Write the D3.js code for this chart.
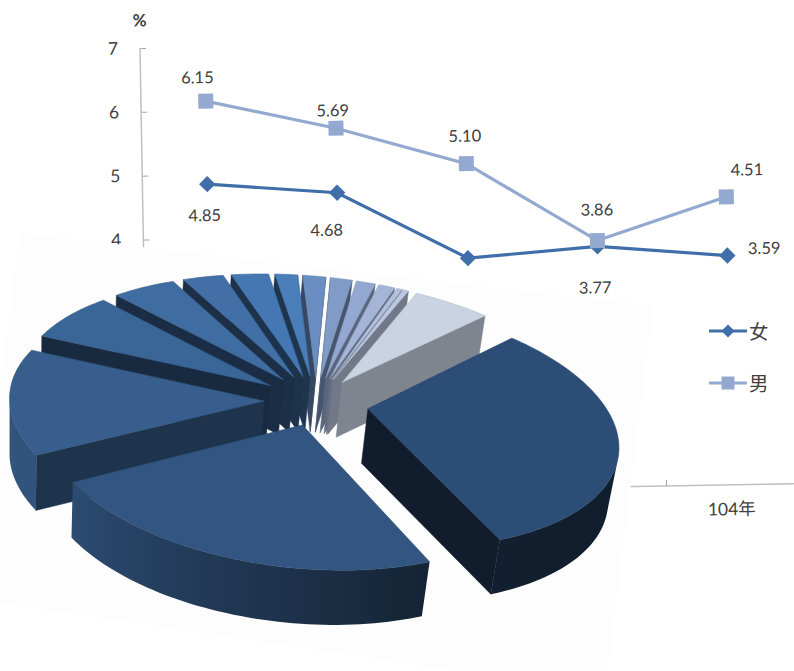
<!DOCTYPE html>
<html><head><meta charset="utf-8">
<script src="https://cdn.jsdelivr.net/npm/d3@7"></script>
<style>
html,body{margin:0;padding:0;background:#fff}
svg{display:block}
text{font-family:"Lato","Noto Sans CJK TC",sans-serif;fill:#404040}
</style></head><body>
<svg id="c" width="794" height="671"></svg>
<script>
// ---- line chart data
const years = ["100年","101年","102年","103年","104年"];
const female = [4.85,4.68,3.62,3.77,3.59];
const male = [6.15,5.69,5.10,3.86,4.51];
const yTicks = [0,1,2,3,4,5,6,7];
// ---- pie data (share of the circle, %)
const pieShares = [31.3,22.9,13.9,7.2,4.9,3.1,2.8,1.7,1.7,1.6,1.4,1.2,0.4,0.4,5.6];
// ---- styles
const pieTop = ["#2c4d75","#325681","#375e8c","#3a6597","#3f6ca1","#426fa6","#4578b3","#4a7eb9","#6a8ec2","#7f9bc6","#92a8d0","#a4b5d8","#b2bfdd","#bcc8e1","#c9d3e2"];
const pieWall = [.38,.4,.55,.42,.42,.42,.42,.42,.5,.55,.6,.6,.6,.6,.63];
const femaleLabelOffset = [[-3,31],[-11,37],[0,40],[-3,41],[37,-7]];
const maleLabelOffset = [[-8,-24],[-3,-18],[-1,-28],[0,-31],[21,-27]];
const FEMALE="#3f6ea8", MALE="#93a9d0";

const svg=d3.select("#c");
const defs=svg.append("defs");
const rad=d=>d*Math.PI/180;

// ---- rotated line chart
const plot=svg.append("g").attr("transform","translate(140,48) rotate(-1)");
const pw=648.5, ph=447;
const x=d3.scaleBand().domain(years).range([0,pw]);
const y=d3.scaleLinear().domain([0,7]).range([ph,0]);

const ax=plot.append("g").call(d3.axisLeft(y).tickValues(yTicks).tickFormat(d3.format("d")).tickSize(-6).tickPadding(22));
ax.selectAll("path").remove();
ax.append("line").attr("y1",0).attr("y2",ph).attr("stroke","#bfbfbf").attr("stroke-width",1.5);
ax.selectAll(".tick line").attr("stroke","#a6a6a6").attr("stroke-width",1);
ax.selectAll(".tick text").style("font-size","17.5px").style("fill","#404040");

const bx=plot.append("g").attr("transform",`translate(0,${ph})`)
  .call(d3.axisBottom(x).tickSize(0).tickPadding(18));
bx.selectAll("path").remove();
bx.selectAll(".tick text").style("font-size","17.5px").style("fill","#404040");
plot.append("line").attr("x1",0).attr("x2",pw+20).attr("y1",ph).attr("y2",ph).attr("stroke","#bfbfbf").attr("stroke-width",1.5);
plot.selectAll("line.bt").data(d3.range(years.length+1)).join("line").attr("class","bt")
  .attr("x1",d=>x.step()*d).attr("x2",d=>x.step()*d).attr("y1",ph).attr("y2",ph-6)
  .attr("stroke","#8c8c8c").attr("stroke-width",.8);

const ln=d3.line().x((d,i)=>x(years[i])+x.bandwidth()/2).y(d=>y(d));
function series(vals,col,offs,marker){
  plot.append("path").attr("d",ln(vals)).attr("fill","none").attr("stroke",col).attr("stroke-width",3.2);
  plot.selectAll(null).data(vals).join("path")
    .attr("d",d3.symbol().type(marker.t).size(marker.s))
    .attr("transform",(d,i)=>`translate(${x(years[i])+x.bandwidth()/2},${y(d)})`).attr("fill",col);
  plot.selectAll(null).data(vals).join("text")
    .attr("x",(d,i)=>x(years[i])+x.bandwidth()/2+offs[i][0])
    .attr("y",(d,i)=>y(d)+offs[i][1]).attr("text-anchor","middle").attr("dominant-baseline","central")
    .style("font-size","16.5px").text(d=>d.toFixed(2));
}
series(female,FEMALE,femaleLabelOffset,{t:d3.symbolDiamond2,s:170});
series(male,MALE,maleLabelOffset,{t:d3.symbolSquare,s:225});
plot.append("text").attr("x",0).attr("y",-28).attr("text-anchor","middle").attr("dominant-baseline","central")
  .style("font-size","17px").style("font-weight","700").text("%");

// ---- legend
const legend=[["女",FEMALE,d3.symbolDiamond2,110,331],["男",MALE,d3.symbolSquare,170,383]];
legend.forEach(([t,c,sym,s,ly])=>{
  const g=svg.append("g").attr("transform",`translate(709,${ly})`);
  g.append("line").attr("x1",0).attr("x2",38).attr("stroke",c).attr("stroke-width",3.2);
  g.append("path").attr("d",d3.symbol().type(sym).size(s)).attr("transform","translate(19,0)").attr("fill",c);
  g.append("text").attr("x",40).attr("dominant-baseline","central").style("font-size","19.5px").text(t);
});

// ---- backing sheet of the pasted pie
svg.append("polygon").attr("points","20,233 653,306 608,671 460,671 0,603 0,380").attr("fill","#fdfdfd");

// ---- 3D pie, projected through a perspective tilt
const P={cx:315.9,cy:401.3,A:250,B:118.5,p:.125,pX:.125,phi:rad(5.7),shear:.025,e:.21,depth:55,shrink:.018};
function proj(px,py,low){
  const w=1-P.p*py, wx=1-P.pX*py; let Y=P.B*py/w, X=P.A*px/wx+P.shear*Y;
  if(low){X*=1-P.shrink;Y+=P.depth;}
  const c=Math.cos(P.phi),s=Math.sin(P.phi);
  return [P.cx+X*c-Y*s,P.cy+X*s+Y*c];
}
const shade=(col,f)=>{const r=d3.rgb(col);return d3.rgb(r.r*f,r.g*f,r.b*f).formatHex();};
const rimShade=d3.scaleLinear().domain([40,90,150,233,290,360]).range([.38,.38,.40,.88,.95,.7]);
const arcs=d3.pie().sort(null).startAngle(rad(38.8)).endAngle(rad(398.8))(pieShares);
const line=d3.line();
const pieG=svg.append("g");
const slices=arcs.map((a,i)=>{
  const mid=(a.startAngle+a.endAngle)/2;
  const ap=[P.e*Math.sin(mid),-P.e*Math.cos(mid)];
  const n=Math.max(2,Math.ceil((a.endAngle-a.startAngle)/rad(1.5)));
  const rim=d3.range(n+1).map(k=>{const t=a.startAngle+(a.endAngle-a.startAngle)*k/n;
    return {t,p:[ap[0]+Math.sin(t),ap[1]-Math.cos(t)]};});
  return {i,mid,ap,rim};
});
slices.sort((u,v)=>(-Math.cos(u.mid))-(-Math.cos(v.mid)));
const quad=(a,b)=>[proj(a[0],a[1],false),proj(b[0],b[1],false),proj(b[0],b[1],true),proj(a[0],a[1],true)];
const faces=(q)=>d3.polygonArea(q)>0;
slices.forEach(s=>{
  const g=pieG.append("g");
  const base=pieTop[s.i], wall=shade(base,pieWall[s.i]);
  const face=(q,c)=>{ if(faces(q)) g.append("path").attr("d",line(q)+"Z").attr("fill",c).attr("stroke",c).attr("stroke-width",.5); };
  face(quad(s.ap,s.rim[0].p),wall);
  // outer wall: the run of rim samples that faces the viewer, filled with one gradient
  const run=[];
  s.rim.slice(0,-1).forEach((r,k)=>{
    if(faces(quad(r.p,s.rim[k+1].p))){ if(!run.length) run.push(r); run.push(s.rim[k+1]); }
  });
  if(run.length>1){
    const topRun=run.map(r=>proj(r.p[0],r.p[1],false));
    const lowRun=run.map(r=>proj(r.p[0],r.p[1],true));
    const x0=topRun[0][0], x1=topRun[topRun.length-1][0];
    const id="rim"+s.i;
    const gr=defs.append("linearGradient").attr("id",id).attr("gradientUnits","userSpaceOnUse")
      .attr("x1",x0).attr("x2",x1).attr("y1",0).attr("y2",0);
    gr.selectAll("stop").data(run).join("stop")
      .attr("offset",(r,k)=>x1===x0?0:(topRun[k][0]-x0)/(x1-x0))
      .attr("stop-color",r=>shade(base,rimShade(((r.t*180/Math.PI)%360+360)%360)));
    g.append("path").attr("d",line([...topRun,...lowRun.reverse()])+"Z")
      .attr("fill",`url(#${id})`);
  }
  face(quad(s.rim[s.rim.length-1].p,s.ap),wall);
  const top=[s.ap,...s.rim.map(r=>r.p)].map(q=>proj(q[0],q[1],false));
  g.append("path").attr("d",line(top)+"Z").attr("fill",base).attr("stroke",shade(base,.9)).attr("stroke-width",.6);
});
</script>
</body></html>
